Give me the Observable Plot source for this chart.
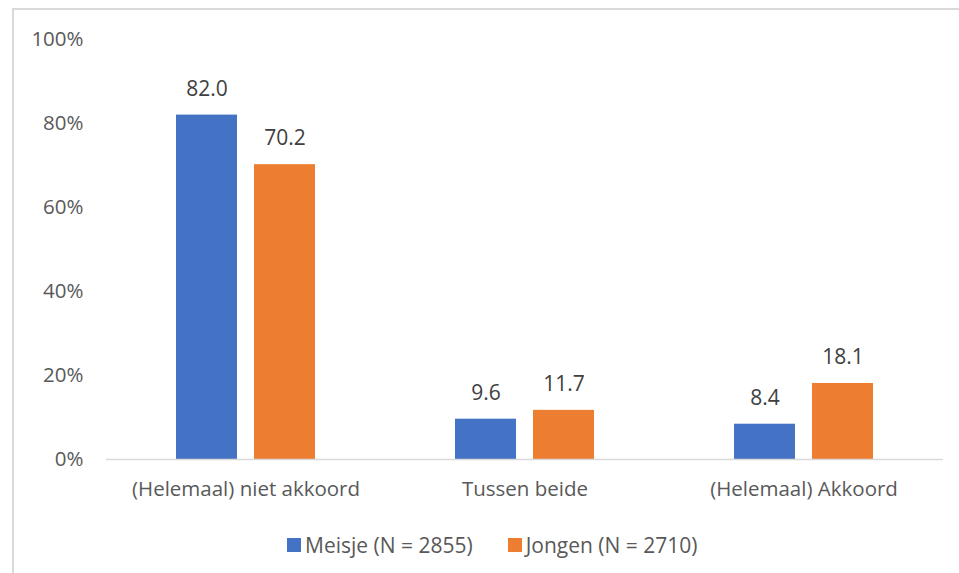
<!DOCTYPE html>
<html>
<head>
<meta charset="utf-8">
<script src="https://cdn.jsdelivr.net/npm/d3@7"></script>
<script src="https://cdn.jsdelivr.net/npm/@observablehq/plot@0.6"></script>
<style>
  html, body { margin: 0; padding: 0; background: #fff; width: 959px; height: 573px; overflow: hidden; }
  body { position: relative; font-family: "Open Sans", sans-serif; }
  #frame { position: absolute; left: 12px; top: 8px; width: 1000px; height: 620px; border: 2px solid #d9d9d9; box-sizing: border-box; }
  #chart { position: absolute; left: 0; top: 0; }
  #legend { position: absolute; left: 287px; top: 530px; display: flex; font-size: 21px; color: #595959; line-height: 30px; }
  .item { display: flex; align-items: center; margin-right: 35px; }
  .sw { width: 14px; height: 14px; margin-right: 4px; }
</style>
</head>
<body>
<div id="frame"></div>
<div id="chart"></div>
<div id="legend"></div>
<script>
const categories = ["(Helemaal) niet akkoord", "Tussen beide", "(Helemaal) Akkoord"];
const series = ["Meisje (N = 2855)", "Jongen (N = 2710)"];
const colors = ["#4472C4", "#ED7D31"];
const meisje = [82.0, 9.6, 8.4];
const jongen = [70.2, 11.7, 18.1];
const yTicks = [0, 20, 40, 60, 80, 100];

const data = [];
categories.forEach((c, i) => {
  data.push({cat: c, s: series[0], v: meisje[i]});
  data.push({cat: c, s: series[1], v: jongen[i]});
});

const plot = Plot.plot({
  width: 959,
  height: 520,
  marginTop: 39,
  marginBottom: 61,
  marginLeft: 105,
  marginRight: 16,
  style: {fontFamily: "Open Sans, sans-serif", fontSize: "20.5px", color: "#595959", background: "transparent"},
  fx: {domain: categories, padding: 0, label: null, tickSize: 0, tickPadding: 22, axis: "bottom"},
  x: {domain: series, paddingInner: 0.215, paddingOuter: 0.875, axis: null},
  y: {domain: [0, 100], ticks: yTicks, tickFormat: d => d + "%", tickSize: 0, tickPadding: 23, label: null, grid: false},
  color: {domain: series, range: colors},
  marks: [
    Plot.barY(data, {fx: "cat", x: "s", y: "v", fill: "s"}),
    Plot.ruleY([0], {stroke: "#d9d9d9", strokeWidth: 1.5}),
    Plot.text(data, {fx: "cat", x: "s", y: "v", text: d => d.v.toFixed(1), dy: -26, fill: "#404040", fontSize: 21})
  ]
});
document.getElementById("chart").appendChild(plot);

const legend = document.getElementById("legend");
series.forEach((s, i) => {
  const it = document.createElement("div");
  it.className = "item";
  const sw = document.createElement("div");
  sw.className = "sw";
  sw.style.background = colors[i];
  const t = document.createElement("span");
  t.textContent = s;
  it.appendChild(sw);
  it.appendChild(t);
  legend.appendChild(it);
});
</script>
</body>
</html>
